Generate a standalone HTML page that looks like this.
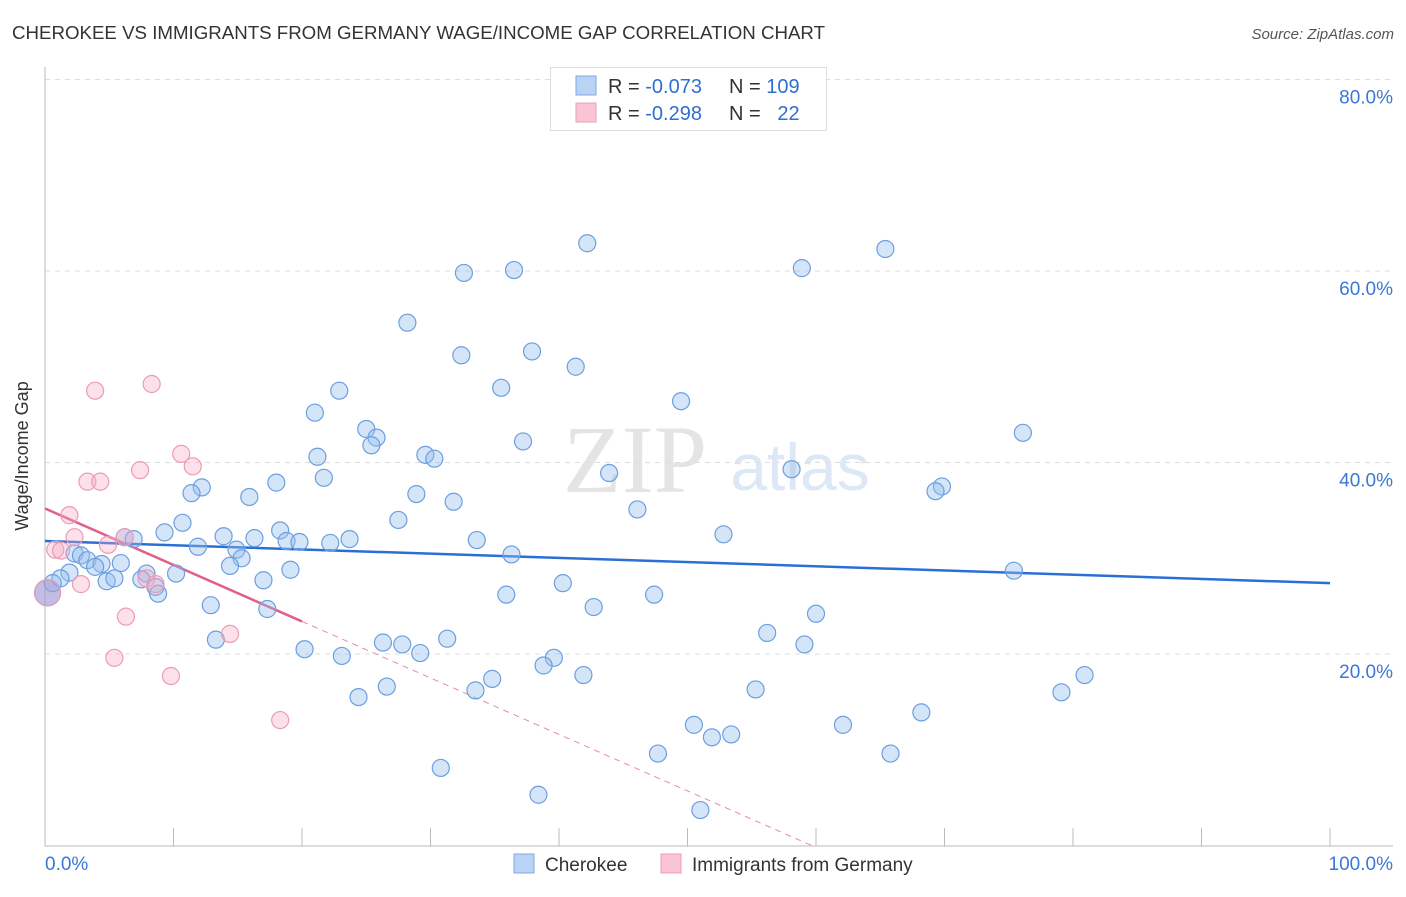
<!DOCTYPE html>
<html><head><meta charset="utf-8"><style>
body{margin:0;background:#fff;font-family:"Liberation Sans",sans-serif;}
svg text{font-family:"Liberation Sans",sans-serif;}
</style></head><body>
<svg id="chart" width="1406" height="892" viewBox="0 0 1406 892" xmlns="http://www.w3.org/2000/svg">
<text x="12" y="39" font-size="18.7" fill="#333">CHEROKEE VS IMMIGRANTS FROM GERMANY WAGE/INCOME GAP CORRELATION CHART</text>
<text x="1394" y="39" font-size="15" fill="#555" text-anchor="end" font-style="italic">Source: ZipAtlas.com</text>
<g><text x="635" y="492" font-size="96" fill="#e4e4e4" style="font-family:'Liberation Serif',serif" text-anchor="middle">ZIP</text><text x="800" y="490" font-size="66" fill="#dde8f6" text-anchor="middle">atlas</text></g>
<g id="grid"></g>
<g id="axes"></g>
<g id="trends"></g>
<g id="points"></g>
<g>
<rect x="550.5" y="67.5" width="276" height="63" fill="#fff" stroke="#ddd"/>
<rect x="576" y="76" width="20" height="19" fill="#b9d3f5" stroke="#7fa9e3"/>
<rect x="576" y="103" width="20" height="19" fill="#f9c5d5" stroke="#ee9db6"/>
<text x="608" y="93" font-size="20" fill="#333">R = <tspan fill="#2f6fd0">-0.073</tspan></text>
<text x="729" y="93" font-size="20" fill="#333">N = <tspan fill="#2f6fd0">109</tspan></text>
<text x="608" y="120" font-size="20" fill="#333">R = <tspan fill="#2f6fd0">-0.298</tspan></text>
<text x="729" y="120" font-size="20" fill="#333">N = <tspan fill="#2f6fd0">&#160;&#160;22</tspan></text>
</g>
<g>
<rect x="514" y="854" width="20" height="19" fill="#b9d3f5" stroke="#7fa9e3"/>
<text x="545" y="871" font-size="19" fill="#333">Cherokee</text>
<rect x="661" y="854" width="20" height="19" fill="#f9c5d5" stroke="#ee9db6"/>
<text x="692" y="871" font-size="19" fill="#333">Immigrants from Germany</text>
</g>
<text x="28" y="456" font-size="18" fill="#333" text-anchor="middle" transform="rotate(-90 28 456)">Wage/Income Gap</text>
</svg>
<script>
const yTicks=[20,40,60,80];
const yTickLabels=["20.0%","40.0%","60.0%","80.0%"];
const xLabels=["0.0%","100.0%"];
const blueX=[42.2,65.4,32.6,36.5,58.9,28.2,32.4,37.9,41.3,22.9,35.5,49.5,21.0,25.0,25.8,25.4,37.2,76.1,21.2,29.6,30.3,58.1,43.9,21.7,18.0,12.2,11.4,28.9,15.9,31.8,69.8,69.3,46.1,27.5,10.7,18.3,9.3,6.2,6.9,13.9,16.3,18.8,19.8,22.2,23.7,33.6,52.8,11.9,14.9,36.3,2.3,2.8,3.3,4.4,5.9,15.3,14.4,1.9,3.9,19.1,75.4,7.9,10.2,1.2,4.8,5.4,7.5,17.0,40.3,8.6,8.8,35.9,47.4,12.9,42.7,17.3,60.0,56.2,13.3,26.3,27.8,31.3,59.1,29.2,20.2,23.1,39.6,38.8,41.9,80.9,34.8,26.6,33.5,55.3,79.1,24.4,68.2,50.5,62.1,51.9,53.4,47.7,65.8,30.8,38.4,51.0,0.6,0.2];
const blueY=[62.9,62.3,59.8,60.1,60.3,54.6,51.2,51.6,50.0,47.5,47.8,46.4,45.2,43.5,42.6,41.8,42.2,43.1,40.6,40.8,40.4,39.3,38.9,38.4,37.9,37.4,36.8,36.7,36.4,35.9,37.5,37.0,35.1,34.0,33.7,32.9,32.7,32.2,32.0,32.3,32.1,31.8,31.7,31.6,32.0,31.9,32.5,31.2,30.9,30.4,30.5,30.3,29.8,29.4,29.5,30.0,29.2,28.5,29.1,28.8,28.7,28.4,28.4,27.9,27.6,27.9,27.8,27.7,27.4,27.0,26.3,26.2,26.2,25.1,24.9,24.7,24.2,22.2,21.5,21.2,21.0,21.6,21.0,20.1,20.5,19.8,19.6,18.8,17.8,17.8,17.4,16.6,16.2,16.3,16.0,15.5,13.9,12.6,12.6,11.3,11.6,9.6,9.6,8.1,5.3,3.7,27.4,26.4];
const blueBig=[0,0,0,0,0,0,0,0,0,0,0,0,0,0,0,0,0,0,0,0,0,0,0,0,0,0,0,0,0,0,0,0,0,0,0,0,0,0,0,0,0,0,0,0,0,0,0,0,0,0,0,0,0,0,0,0,0,0,0,0,0,0,0,0,0,0,0,0,0,0,0,0,0,0,0,0,0,0,0,0,0,0,0,0,0,0,0,0,0,0,0,0,0,0,0,0,0,0,0,0,0,0,0,0,0,0,0,1];
const pinkX=[8.3,3.9,10.6,11.5,7.4,3.3,4.3,1.9,2.3,4.9,0.8,1.25,6.2,7.9,8.6,2.8,6.3,14.4,5.4,9.8,18.3,0.2];
const pinkY=[48.2,47.5,40.9,39.6,39.2,38.0,38.0,34.5,32.2,31.4,30.9,30.8,32.2,27.9,27.3,27.3,23.9,22.1,19.6,17.7,13.1,26.4];
const blueTrend=[31.8,27.4];
const pinkTrend=[35.2,-0.59];
const NS="http://www.w3.org/2000/svg";
const X0=45,X1=1330,Y0=845.5,YS=9.575;
const xs=v=>X0+(X1-X0)*v/100, ys=v=>Y0-v*YS;
function mk(t,a,p){const e=document.createElementNS(NS,t);for(const k in a)e.setAttribute(k,a[k]);document.getElementById(p).appendChild(e);return e;}
yTicks.forEach((t,i)=>{
 const l=mk('line',{x1:45,x2:1393,y1:ys(t),y2:ys(t),stroke:'#ddd','stroke-dasharray':'5,5'},'grid');
 
 
 const tx=mk('text',{x:1393,y:ys(t)+24,'font-size':19,fill:'#3a78d6','text-anchor':'end'},'grid');
 tx.textContent=yTickLabels[i];
 
 
});
mk('line',{x1:45,x2:45,y1:67,y2:846,stroke:'#bbb'},'axes');
mk('line',{x1:45,x2:1393,y1:846,y2:846,stroke:'#bbb'},'axes');
for(let i=1;i<=10;i++){mk('line',{x1:xs(i*10),x2:xs(i*10),y1:828,y2:846,stroke:'#bbb'},'axes');}
const xl0=mk('text',{x:45,y:870,'font-size':19,fill:'#3a78d6'},'axes');xl0.textContent=xLabels[0];


const xl1=mk('text',{x:1393,y:870,'font-size':19,fill:'#3a78d6','text-anchor':'end'},'axes');xl1.textContent=xLabels[1];


blueX.forEach((v,i)=>{
 const c=mk('circle',{cx:xs(v),cy:ys(blueY[i]),r:blueBig[i]?13:8.5,fill:'rgba(150,190,238,0.4)',stroke:'#6b9fe0','stroke-width':1.2},'points');
 
 
});
pinkX.forEach((v,i)=>{
 const big=i===pinkX.length-1;
 const c=mk('circle',{cx:xs(v),cy:ys(pinkY[i]),r:big?13:8.5,fill:big?'rgba(170,140,200,0.45)':'rgba(245,170,195,0.35)',stroke:'#eb9cb5','stroke-width':1.2},'points');
 
 
});
const bt=mk('line',{x1:xs(0),y1:ys(blueTrend[0]),x2:xs(100),y2:ys(blueTrend[1]),stroke:'#2a6fd6','stroke-width':2.5},'trends');


const pf=x=>pinkTrend[0]+pinkTrend[1]*x;
const pt=mk('line',{x1:xs(0),y1:ys(pf(0)),x2:xs(20),y2:ys(pf(20)),stroke:'#e0608a','stroke-width':2.5},'trends');


const xe=-pinkTrend[0]/pinkTrend[1];
const pd=mk('line',{x1:xs(20),y1:ys(pf(20)),x2:xs(xe),y2:ys(0),stroke:'#e88aa8','stroke-width':1,'stroke-dasharray':'6,5'},'trends');


</script>
</body></html>
